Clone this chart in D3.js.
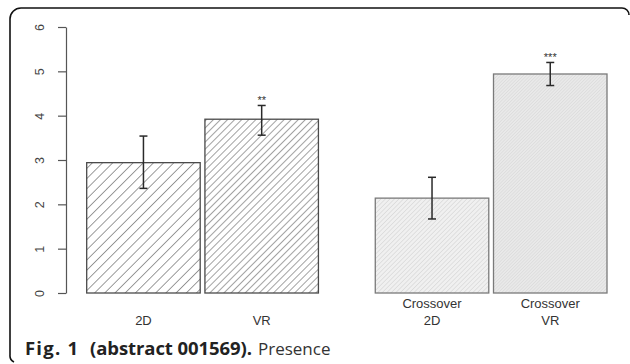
<!DOCTYPE html>
<html>
<head>
<meta charset="utf-8">
<script src="https://cdn.jsdelivr.net/npm/d3@7"></script>
<style>
  body { margin: 0; background: #fff; }
  svg { display: block; }
</style>
</head>
<body>
<div class="chart"></div>
<script>
// presence scores, 4 conditions (2 groups)
const groups = ["parallel", "crossover"];
const barGroup = ["parallel", "parallel", "crossover", "crossover"];
const barLabels = [["2D"], ["VR"], ["Crossover", "2D"], ["Crossover", "VR"]];
const means = [2.94, 3.92, 2.14, 4.94];
const errLow = [2.36, 3.56, 1.67, 4.68];
const errHigh = [3.54, 4.23, 2.61, 5.20];
const stars = ["", "**", "", "***"];
const yTicks = [0, 1, 2, 3, 4, 5, 6];

const width = 630, height = 364;

const svg = d3.select('.chart')
    .append('svg')
    .attr('width', width)
    .attr('height', height);

// hatch patterns, one per bar
const hatch = [
    { spacing: 7.2, stroke: '#4a4a4a', sw: 1.1, bg: '#fff' },
    { spacing: 5.0, stroke: '#555', sw: 1.1, bg: '#fff' },
    { spacing: 3.2, stroke: '#cfcfcf', sw: 1, bg: '#f0f0f0' },
    { spacing: 2.3, stroke: '#d4d4d4', sw: 0.9, bg: '#e9e9e9' }
];
const defs = svg.append('defs');
hatch.forEach((h, i) => {
    const p = defs.append('pattern')
        .attr('id', 'hatch' + i)
        .attr('patternUnits', 'userSpaceOnUse')
        .attr('width', h.spacing)
        .attr('height', h.spacing)
        .attr('patternTransform', 'rotate(45)');
    p.append('rect')
        .attr('width', h.spacing)
        .attr('height', h.spacing)
        .attr('fill', h.bg);
    p.append('line')
        .attr('x1', 0).attr('y1', 0)
        .attr('x2', 0).attr('y2', h.spacing)
        .attr('stroke', h.stroke)
        .attr('stroke-width', h.sw);
});

// frame of the figure box
svg.append('path')
    .attr('d', 'M629,15 A7,7 0 0 0 622,8 L21,8 A11,11 0 0 0 10,19 L10,355 A7,7 0 0 0 14,362')
    .attr('fill', 'none')
    .attr('stroke', '#111')
    .attr('stroke-width', 1.6);

const yScale = d3.scaleLinear()
    .domain([0, 6])
    .range([293, 27]);

const xGroup = d3.scaleBand()
    .domain(groups)
    .range([86.7, 607])
    .paddingInner(0.197)
    .paddingOuter(0);

const xInner = d3.scaleBand()
    .domain([0, 1])
    .range([0, xGroup.bandwidth()])
    .paddingInner(0.04)
    .paddingOuter(0);

const idx = d3.range(means.length);
const inGroup = i => barGroup.slice(0, i).filter(g => g === barGroup[i]).length;
const barX = i => xGroup(barGroup[i]) + xInner(inGroup(i));
const bw = xInner.bandwidth();

// y axis
const yAxis = d3.axisLeft(yScale)
    .tickValues(yTicks)
    .tickFormat(d3.format('d'))
    .tickSize(8)
    .tickSizeOuter(0)
    .tickPadding(0);

const ag = svg.append('g')
    .attr('transform', 'translate(66,0)')
    .call(yAxis);
ag.select('.domain').attr('stroke', '#555').attr('stroke-width', 1.2);
ag.selectAll('.tick line').attr('stroke', '#555').attr('stroke-width', 1.2);
ag.selectAll('.tick text')
    .attr('x', 0).attr('y', 0)
    .attr('transform', 'translate(-26,0) rotate(-90)')
    .attr('text-anchor', 'middle')
    .attr('dy', '0.35em')
    .attr('fill', '#444')
    .style('font-family', '"Liberation Sans", Arial, sans-serif')
    .style('font-size', '12.5px');

// bars
svg.append('g')
    .selectAll('rect')
    .data(idx)
    .enter()
    .append('rect')
    .attr('x', i => barX(i))
    .attr('y', i => yScale(means[i]))
    .attr('width', bw)
    .attr('height', i => yScale(0) - yScale(means[i]))
    .attr('fill', i => `url(#hatch${i})`)
    .attr('stroke', i => i < 2 ? '#4a4a4a' : '#7a7a7a')
    .attr('stroke-width', 1.3);

// error bars
const eg = svg.append('g')
    .attr('stroke', '#2a2a2a')
    .attr('stroke-width', 1.5);
const cx = i => barX(i) + bw / 2;
const cap = 4;
eg.selectAll('.stem')
    .data(idx).enter().append('line')
    .attr('x1', cx).attr('x2', cx)
    .attr('y1', i => yScale(errLow[i]))
    .attr('y2', i => yScale(errHigh[i]));
eg.selectAll('.capHi')
    .data(idx).enter().append('line')
    .attr('x1', i => cx(i) - cap).attr('x2', i => cx(i) + cap)
    .attr('y1', i => yScale(errHigh[i])).attr('y2', i => yScale(errHigh[i]));
eg.selectAll('.capLo')
    .data(idx).enter().append('line')
    .attr('x1', i => cx(i) - cap).attr('x2', i => cx(i) + cap)
    .attr('y1', i => yScale(errLow[i])).attr('y2', i => yScale(errLow[i]));

// significance stars
svg.append('g')
    .selectAll('text')
    .data(idx.filter(i => stars[i]))
    .enter()
    .append('text')
    .attr('x', cx)
    .attr('y', i => yScale(errHigh[i]) - 1)
    .attr('text-anchor', 'middle')
    .attr('fill', '#333')
    .style('font-family', '"Liberation Sans", Arial, sans-serif')
    .style('font-size', '11px')
    .text(i => stars[i]);

// category labels
const lab = svg.append('g')
    .style('font-family', '"Liberation Sans", Arial, sans-serif')
    .style('font-size', '13px')
    .attr('fill', '#333')
    .attr('text-anchor', 'middle');
idx.forEach(i => {
    const lines = barLabels[i];
    lines.forEach((t, k) => {
        lab.append('text')
            .attr('x', cx(i))
            .attr('y', 325 - (lines.length - 1 - k) * 17)
            .text(t);
    });
});

// caption (bold part stretched a bit, source font is wider)
const capG = svg.append('g')
    .attr('fill', '#222')
    .style('font-family', '"Open Sans", sans-serif');
capG.append('text')
    .attr('x', 25).attr('y', 355)
    .attr('textLength', 53).attr('lengthAdjust', 'spacing')
    .style('font-size', '18.5px').style('font-weight', 700)
    .text('Fig. 1');
capG.append('text')
    .attr('x', 90).attr('y', 355)
    .attr('textLength', 162).attr('lengthAdjust', 'spacing')
    .style('font-size', '18.5px').style('font-weight', 700)
    .text('(abstract 001569).');
capG.append('text')
    .attr('x', 258).attr('y', 355)
    .attr('fill', '#333')
    .style('font-size', '17px').style('font-weight', 400)
    .text('Presence');
</script>
</body>
</html>
